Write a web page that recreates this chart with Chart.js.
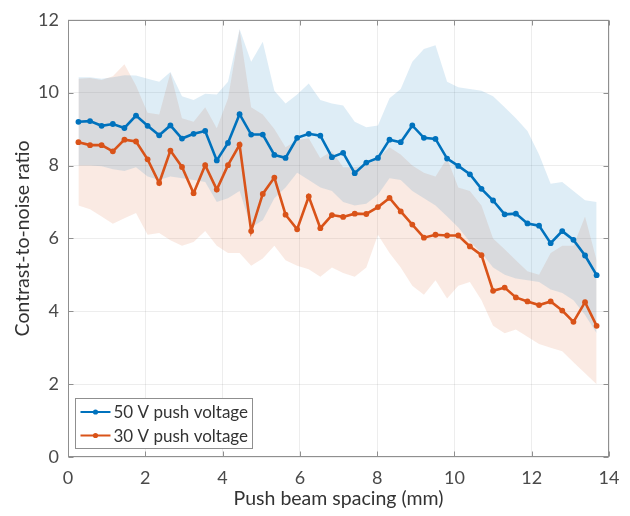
<!DOCTYPE html>
<html>
<head>
<meta charset="utf-8">
<script src="https://cdn.jsdelivr.net/npm/chart.js"></script>
<style>
  html, body { margin: 0; padding: 0; background: #fff; }
  #cnrChart { display: block; }
</style>
</head>
<body>
<canvas id="cnrChart" width="630" height="516"></canvas>
<script>
// push beam spacing (mm)
const spacing = [
  0.27, 0.57, 0.87, 1.16, 1.46, 1.76, 2.06, 2.36, 2.65, 2.95,
  3.25, 3.55, 3.85, 4.14, 4.44, 4.74, 5.04, 5.34, 5.63, 5.93,
  6.23, 6.53, 6.83, 7.12, 7.42, 7.72, 8.02, 8.32, 8.61, 8.91,
  9.21, 9.51, 9.81, 10.10, 10.40, 10.70, 11.00, 11.30, 11.59, 11.89,
  12.19, 12.49, 12.79, 13.08, 13.38, 13.68,
];

// 50 V push voltage: mean CNR and band
const cnr50 = [
  9.20, 9.22, 9.09, 9.14, 9.03, 9.37, 9.09, 8.83, 9.10, 8.74,
  8.87, 8.95, 8.14, 8.62, 9.41, 8.85, 8.85, 8.29, 8.21, 8.76,
  8.87, 8.82, 8.23, 8.35, 7.79, 8.08, 8.21, 8.71, 8.64, 9.10,
  8.76, 8.73, 8.19, 7.99, 7.76, 7.36, 7.04, 6.66, 6.68, 6.41,
  6.35, 5.87, 6.20, 5.96, 5.53, 4.99,
];
const cnr50Upper = [
  10.42, 10.42, 10.38, 10.42, 10.48, 10.47, 10.38, 10.30, 10.57, 9.90,
  9.80, 9.97, 9.95, 10.30, 11.75, 10.85, 11.40, 10.05, 9.70, 9.95,
  10.25, 9.80, 9.70, 9.65, 9.20, 9.05, 9.10, 9.85, 10.10, 10.85,
  11.20, 11.30, 10.30, 10.15, 10.10, 10.05, 9.90, 9.60, 9.30, 8.95,
  8.30, 7.50, 7.55, 7.30, 7.05, 7.00,
];
const cnr50Lower = [
  8.00, 8.00, 7.98, 7.90, 7.85, 7.95, 7.70, 7.60, 7.70, 7.65,
  7.60, 7.55, 7.00, 7.10, 7.30, 6.30, 6.50, 7.10, 7.40, 7.80,
  7.60, 7.40, 7.30, 7.00, 6.90, 6.95, 7.20, 7.65, 7.60, 7.30,
  7.10, 6.90, 6.60, 6.30, 5.90, 5.60, 5.20, 5.00, 4.90, 4.85,
  4.80, 4.60, 4.50, 4.30, 3.90, 3.40,
];

// 30 V push voltage: mean CNR and band
const cnr30 = [
  8.64, 8.56, 8.56, 8.39, 8.71, 8.66, 8.17, 7.52, 8.41, 7.96,
  7.24, 8.01, 7.34, 8.01, 8.57, 6.20, 7.22, 7.67, 6.65, 6.25,
  7.15, 6.28, 6.64, 6.59, 6.68, 6.67, 6.86, 7.11, 6.74, 6.38,
  6.02, 6.10, 6.08, 6.08, 5.78, 5.54, 4.56, 4.65, 4.38, 4.27,
  4.17, 4.27, 4.02, 3.71, 4.25, 3.60,
];
const cnr30Upper = [
  10.38, 10.40, 10.35, 10.45, 10.78, 10.20, 9.45, 9.40, 10.55, 9.30,
  9.20, 9.60, 9.02, 9.84, 11.73, 9.60, 9.40, 9.00, 8.50, 8.70,
  8.75, 8.20, 8.40, 7.95, 7.95, 8.00, 8.20, 8.50, 8.30, 8.00,
  7.80, 7.70, 8.20, 7.40, 7.30, 6.90, 6.00, 5.70, 5.40, 5.10,
  5.00, 5.60, 5.80, 5.80, 6.60, 5.40,
];
const cnr30Lower = [
  6.90, 6.80, 6.60, 6.40, 6.55, 6.70, 6.10, 6.15, 5.95, 5.80,
  5.90, 6.20, 5.80, 5.60, 5.60, 5.25, 5.45, 5.80, 5.40, 5.25,
  5.15, 4.95, 5.20, 5.05, 4.95, 5.20, 6.10, 5.60, 5.20, 4.70,
  4.45, 4.85, 4.35, 4.70, 4.80, 4.30, 3.60, 3.40, 3.50, 3.30,
  3.10, 3.00, 2.90, 2.60, 2.30, 2.00,
];

const xTicks = [0, 2, 4, 6, 8, 10, 12, 14];
const yTicks = [0, 2, 4, 6, 8, 10, 12];

const BLUE = "#0072BD";
const ORANGE = "#D95319";
const AXIS_GRAY = "#8f8f8f";
const FONT = "Lato, 'Open Sans', sans-serif";

const toPoints = (ys) => spacing.map((x, i) => ({ x, y: ys[i] }));

const meanLine = (label, ys, color) => ({
  label,
  data: toPoints(ys),
  borderColor: color,
  backgroundColor: color,
  borderWidth: 2.6,
  pointRadius: 2.9,
  pointHoverRadius: 2.9,
  pointBorderWidth: 0,
  tension: 0,
  fill: false,
  inLegend: true,
});

const bandEdge = (ys, fill, color) => ({
  data: toPoints(ys),
  borderWidth: 0,
  pointRadius: 0,
  tension: 0,
  fill,
  backgroundColor: color,
});

// box round the plot, with short inward ticks on all four sides
const frame = {
  id: "frame",
  afterDatasetsDraw(chart) {
    const { ctx, chartArea: a, scales } = chart;
    const l = Math.round(a.left) + 0.5;
    const r = Math.round(a.right) - 0.5;
    const t = Math.round(a.top) + 0.5;
    const b = Math.round(a.bottom) - 0.5;
    ctx.save();
    ctx.strokeStyle = AXIS_GRAY;
    ctx.lineWidth = 1;
    ctx.strokeRect(l, t, r - l, b - t);
    ctx.beginPath();
    xTicks.forEach((v) => {
      const px = Math.round(scales.x.getPixelForValue(v)) + 0.5;
      ctx.moveTo(px, b);
      ctx.lineTo(px, b - 5);
      ctx.moveTo(px, t);
      ctx.lineTo(px, t + 5);
    });
    yTicks.forEach((v) => {
      const py = Math.round(scales.y.getPixelForValue(v)) + 0.5;
      ctx.moveTo(l, py);
      ctx.lineTo(l + 5, py);
      ctx.moveTo(r, py);
      ctx.lineTo(r - 5, py);
    });
    ctx.stroke();
    ctx.restore();
  },
};

// legend drawn inside the lower left corner of the plot
const legendBox = {
  id: "legendBox",
  afterDraw(chart) {
    const { ctx } = chart;
    const entries = chart.data.datasets.filter((d) => d.inLegend);
    const x0 = 75.5, y0 = 398.5, w = 177, h = 50;
    ctx.save();
    ctx.fillStyle = "#fff";
    ctx.fillRect(x0, y0, w, h);
    ctx.strokeStyle = AXIS_GRAY;
    ctx.lineWidth = 1;
    ctx.strokeRect(x0, y0, w, h);
    ctx.font = `17px ${FONT}`;
    ctx.textBaseline = "middle";
    entries.forEach((d, i) => {
      const cy = y0 + 13.5 + i * 23.5;
      ctx.strokeStyle = d.borderColor;
      ctx.lineWidth = 2;
      ctx.beginPath();
      ctx.moveTo(x0 + 5, cy);
      ctx.lineTo(x0 + 35, cy);
      ctx.stroke();
      ctx.fillStyle = d.borderColor;
      ctx.beginPath();
      ctx.arc(x0 + 20, cy, 2.6, 0, Math.PI * 2);
      ctx.fill();
      ctx.fillStyle = "#333";
      ctx.fillText(d.label, x0 + 38, cy + 1);
    });
    ctx.restore();
  },
};

const renderCnrChart = () => {
  Chart.defaults.font.family = FONT;
  Chart.defaults.color = "#4a4a4a";

  const data = {
    datasets: [
      meanLine("50 V push voltage", cnr50, BLUE),
      meanLine("30 V push voltage", cnr30, ORANGE),
      bandEdge(cnr50Upper, 3, "rgba(0, 114, 189, 0.13)"),
      bandEdge(cnr50Lower, false, "transparent"),
      bandEdge(cnr30Upper, 5, "rgba(217, 83, 25, 0.12)"),
      bandEdge(cnr30Lower, false, "transparent"),
    ],
  };

  const options = {
    responsive: false,
    animation: false,
    devicePixelRatio: 1,
    layout: { padding: { top: 13, right: 21, left: 0, bottom: 0 } },
    plugins: {
      legend: { display: false },
      tooltip: { enabled: false },
    },
    scales: {
      x: {
        type: "linear",
        min: 0,
        max: 14,
        afterBuildTicks: (scale) => {
          scale.ticks = xTicks.map((value) => ({ value }));
        },
        afterFit: (scale) => {
          scale.height = 59;
        },
        grid: { color: "rgba(0, 0, 0, 0.07)", drawTicks: false },
        border: { display: false },
        ticks: { padding: 10, font: { size: 18 }, maxRotation: 0 },
        title: {
          display: true,
          text: "Push beam spacing (mm)",
          font: { size: 19.5 },
          color: "#333",
          padding: { top: 6, bottom: 6 },
        },
      },
      y: {
        min: 0,
        max: 12,
        afterBuildTicks: (scale) => {
          scale.ticks = yTicks.map((value) => ({ value }));
        },
        afterFit: (scale) => {
          scale.width = 68;
        },
        grid: { color: "rgba(0, 0, 0, 0.07)", drawTicks: false },
        border: { display: false },
        ticks: { padding: 9, font: { size: 18 } },
        title: {
          display: true,
          text: "Contrast-to-noise ratio",
          font: { size: 19.5 },
          color: "#333",
          padding: { top: 11, bottom: 11 },
        },
      },
    },
  };

  new Chart("cnrChart", { type: "line", data, options, plugins: [frame, legendBox] });
};

renderCnrChart();
</script>
</body>
</html>
